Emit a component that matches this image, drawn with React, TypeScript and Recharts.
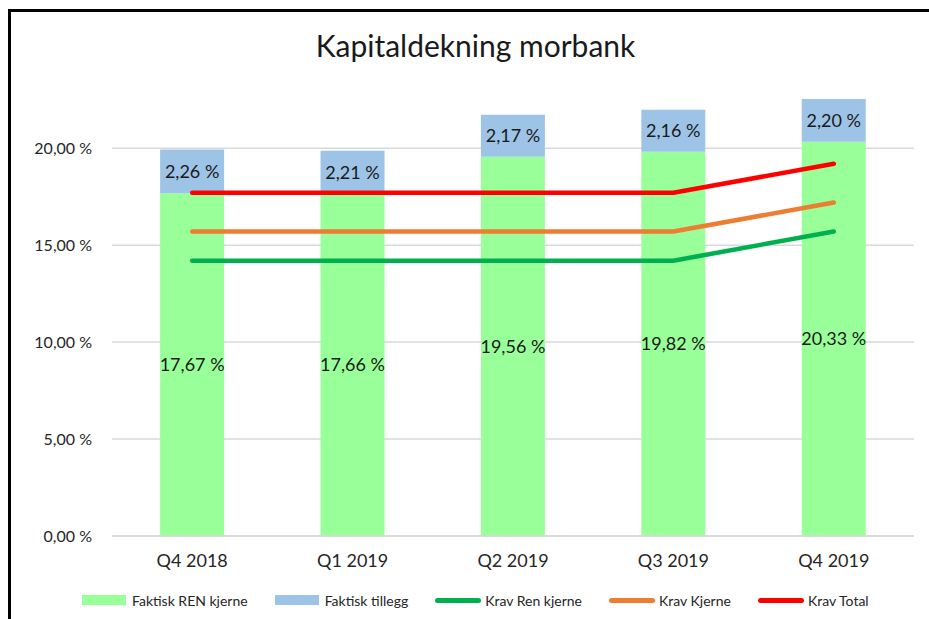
import React from 'react';
import { ComposedChart, Bar, Line, XAxis, YAxis, CartesianGrid, Legend, LabelList } from 'recharts';

const categories = ['Q4 2018', 'Q1 2019', 'Q2 2019', 'Q3 2019', 'Q4 2019'];
const faktiskRenKjerne = [17.67, 17.66, 19.56, 19.82, 20.33];
const faktiskTillegg = [2.26, 2.21, 2.17, 2.16, 2.2];
const kravRenKjerne = [14.2, 14.2, 14.2, 14.2, 15.7];
const kravKjerne = [15.7, 15.7, 15.7, 15.7, 17.2];
const kravTotal = [17.7, 17.7, 17.7, 17.7, 19.2];
const yTicks = [0, 5, 10, 15, 20];
const Y_MAX = 23;

const data = categories.map((c, i) => ({
  name: c,
  ren: faktiskRenKjerne[i],
  tillegg: faktiskTillegg[i],
  kravRen: kravRenKjerne[i],
  kravKjerne: kravKjerne[i],
  kravTotal: kravTotal[i],
}));

const FONT = "Lato, 'Open Sans', sans-serif";
const fmt = (v: number) => v.toFixed(2).replace('.', ',') + ' %';

const legendItems = [
  { label: 'Faktisk REN kjerne', color: '#99FF99', type: 'rect' },
  { label: 'Faktisk tillegg', color: '#9DC3E6', type: 'rect' },
  { label: 'Krav Ren kjerne', color: '#00B050', type: 'line' },
  { label: 'Krav Kjerne', color: '#ED7D31', type: 'line' },
  { label: 'Krav Total', color: '#FF0000', type: 'line' },
];

const LegendContent = () => (
  <div style={{ display: 'flex', alignItems: 'center', height: 30, paddingLeft: 82, fontFamily: FONT, fontSize: 14, color: '#262626' }}>
    {legendItems.map((it) => (
      <div key={it.label} style={{ display: 'flex', alignItems: 'center', marginRight: 27 }}>
        {it.type === 'rect' ? (
          <div style={{ width: 44, height: 10, background: it.color, marginRight: 6 }} />
        ) : (
          <div style={{ width: 46, height: 5, borderRadius: 3, background: it.color, marginRight: 4 }} />
        )}
        <span>{it.label}</span>
      </div>
    ))}
  </div>
);

const labelStyle = { fontFamily: FONT, fontSize: 18, fill: '#1a1a1a' };

const gridGen = (p: any) => {
  const top = p?.offset?.top ?? 0;
  const h = p?.offset?.height ?? 0;
  return yTicks.map((t) => top + h * (1 - t / Y_MAX));
};

export default function App() {
  return (
    <div style={{ position: 'absolute', left: 0, top: 0, width: 929, height: 619, background: '#fff', overflow: 'hidden' }}>
      <div style={{ position: 'absolute', left: 8, top: 9, width: 940, height: 640, borderTop: '3px solid #000', borderLeft: '3px solid #000' }} />
      <div style={{ position: 'absolute', left: 11, top: 27, width: 929, textAlign: 'center', fontFamily: FONT, fontSize: 30, color: '#1a1a1a' }}>
        Kapitaldekning morbank
      </div>
      <ComposedChart width={929} height={619} data={data} margin={{ top: 90, right: 15, bottom: 13, left: 12 }} barCategoryGap="30%">
        <CartesianGrid vertical={false} stroke="#d9d9d9" strokeWidth={1.5} horizontalCoordinatesGenerator={gridGen} />
        <XAxis dataKey="name" axisLine={{ stroke: '#d9d9d9', strokeWidth: 1.5 }} tickLine={false} height={40} tickMargin={12}
          tick={{ fontFamily: FONT, fontSize: 18, fill: '#262626' }} />
        <YAxis domain={[0, Y_MAX]} ticks={yTicks} width={100} axisLine={false} tickLine={false} tickSize={0} tickMargin={20}
          tickFormatter={fmt} tick={{ fontFamily: FONT, fontSize: 16, fill: '#262626' }} />
        <Legend verticalAlign="bottom" content={<LegendContent />} wrapperStyle={{ bottom: 4, left: 0, width: 929 }} />
        <Bar dataKey="ren" stackId="a" fill="#99FF99" isAnimationActive={false}>
          <LabelList dataKey="ren" position="center" formatter={(v: any) => fmt(Number(v))} style={labelStyle} />
        </Bar>
        <Bar dataKey="tillegg" stackId="a" fill="#9DC3E6" isAnimationActive={false}>
          <LabelList dataKey="tillegg" position="center" formatter={(v: any) => fmt(Number(v))} style={labelStyle} />
        </Bar>
        <Line dataKey="kravRen" stroke="#00B050" strokeWidth={4.5} strokeLinecap="round" dot={false} isAnimationActive={false} type="linear" />
        <Line dataKey="kravKjerne" stroke="#ED7D31" strokeWidth={4.5} strokeLinecap="round" dot={false} isAnimationActive={false} type="linear" />
        <Line dataKey="kravTotal" stroke="#FF0000" strokeWidth={4.5} strokeLinecap="round" dot={false} isAnimationActive={false} type="linear" />
      </ComposedChart>
    </div>
  );
}
